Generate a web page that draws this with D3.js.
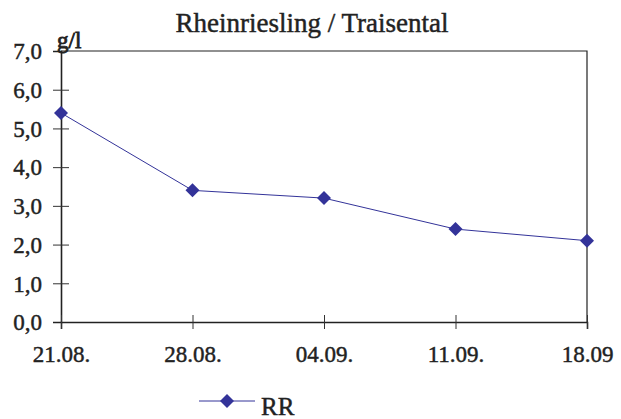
<!DOCTYPE html>
<html>
<head>
<meta charset="utf-8">
<script src="https://cdn.jsdelivr.net/npm/d3@7"></script>
<style>
  html, body { margin: 0; padding: 0; background: #fff; }
  svg { display: block; }
</style>
</head>
<body>
<svg id="chart" width="621" height="419"></svg>
<script>
// Sugar-free extract (g/l) by sampling date
const dates = ["21.08.", "28.08.", "04.09.", "11.09.", "18.09"];
const rrValues = [5.4, 3.4, 3.2, 2.4, 2.1];
const yTicks = [0, 1, 2, 3, 4, 5, 6, 7];
const seriesName = "RR";
const chartTitle = "Rheinriesling / Traisental";
const unitLabel = "g/l";

const FONT = "'Liberation Serif'";
const INK = "#222";
const styleText = sel => sel
  .style("font-family", FONT)
  .style("fill", INK)
  .style("stroke", INK)
  .style("stroke-width", "0.45px");

const svg = d3.select("#chart");
const margin = { left: 61, right: 34, top: 51, bottom: 97 };
const W = 621, H = 419;
const innerW = W - margin.left - margin.right;
const innerH = H - margin.top - margin.bottom;

const x = d3.scalePoint().domain(dates).range([0, innerW]);
const y = d3.scaleLinear().domain([0, 7]).range([innerH, 0]);

const g = svg.append("g").attr("transform", `translate(${margin.left},${margin.top})`);

// plot frame (top and right edges)
g.append("path")
  .attr("d", `M0,0H${innerW}V${innerH}`)
  .attr("fill", "none").attr("stroke", INK).attr("stroke-width", 1.2);

// y axis
const yAxis = g.append("g")
  .call(d3.axisLeft(y).tickValues(yTicks).tickSize(8).tickPadding(11)
    .tickFormat(d => d3.format(".1f")(d).replace(".", ",")));
yAxis.attr("font-family", null);
yAxis.select(".domain").attr("stroke", INK).attr("stroke-width", 1.6);
yAxis.selectAll(".tick line").attr("x2", 8).attr("x1", -8).attr("stroke", "#333");
yAxis.selectAll(".tick").filter(d => d === 0 || d === 7).select("line").remove();
yAxis.selectAll("text").attr("font-size", 23).attr("dy", "0.34em").call(styleText);

// x axis
const xAxis = g.append("g").attr("transform", `translate(0,${innerH})`)
  .call(d3.axisBottom(x).tickSize(7).tickPadding(17));
xAxis.attr("font-family", null);
xAxis.select(".domain").attr("stroke", INK).attr("stroke-width", 1.6);
xAxis.selectAll(".tick line").attr("y1", -7).attr("y2", 7).attr("stroke", "#333");
xAxis.selectAll("text").attr("font-size", 23).call(styleText);

// series line
const color = "#333399";
g.append("path")
  .datum(rrValues)
  .attr("fill", "none").attr("stroke", color).attr("stroke-width", 1)
  .attr("d", d3.line().x((d, i) => x(dates[i])).y(d => y(d)));

const diamondPath = "M0,-7L7,0L0,7L-7,0Z";
g.selectAll(".pt").data(rrValues).join("path")
  .attr("class", "pt")
  .attr("d", diamondPath)
  .attr("fill", color)
  .attr("transform", (d, i) => `translate(${x(dates[i])},${y(d)})`);

// title and unit
svg.append("text").attr("x", 312).attr("y", 32).attr("text-anchor", "middle")
  .attr("font-size", 27).text(chartTitle).call(styleText);
svg.append("text").attr("x", 57).attr("y", 48).attr("font-size", 23)
  .text(unitLabel).call(styleText).style("stroke-width", "0.8px");

// legend
const lg = svg.append("g").attr("transform", "translate(199,401)");
lg.append("line").attr("x1", 0).attr("x2", 56).attr("stroke", color).attr("stroke-width", 1);
lg.append("path").attr("d", diamondPath).attr("fill", color).attr("transform", "translate(28,0)");
lg.append("text").attr("x", 62).attr("y", 14).attr("font-size", 25).text(seriesName).call(styleText);
</script>
</body>
</html>
